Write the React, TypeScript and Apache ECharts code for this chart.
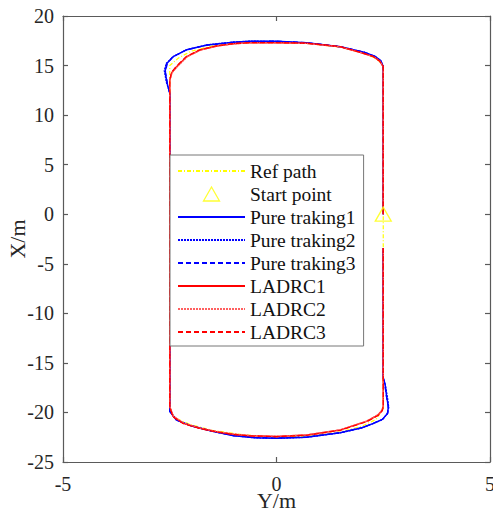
import React, { useEffect, useRef } from "react";
import * as echarts from "echarts";

// [Y (horizontal), X (vertical)] in metres
const refPath: number[][] = [
  [2.5, 0], [2.5, 15], [2.38, 15.55], [2.1, 16.2], [1.5, 16.85], [0.8, 17.22], [0, 17.38],
  [-0.8, 17.3], [-1.5, 16.98], [-2.0, 16.45], [-2.3, 15.75], [-2.5, 15], [-2.5, -19.7],
  [-2.38, -20.55], [-2.0, -21.25], [-1.5, -21.8], [-0.8, -22.25], [0, -22.5], [0.8, -22.38],
  [1.5, -21.95], [2.0, -21.4], [2.33, -20.7], [2.5, -19.6], [2.5, 0],
];
const startPoint: number[][] = [[2.5, 0]];
const pure1: number[][] = [
  [2.5, 0], [2.5, 14.9], [2.44, 15.5], [2.3, 15.95], [2.05, 16.35], [1.5, 16.9], [0.7, 17.3],
  [0, 17.45], [-0.62, 17.45], [-1.01, 17.35], [-1.63, 17.07], [-2.1, 16.6], [-2.42, 15.9],
  [-2.57, 15.2], [-2.61, 14.4], [-2.56, 13.2], [-2.5, 12.2], [-2.5, -19.9], [-2.34, -20.77],
  [-2.0, -21.35], [-1.5, -21.9], [-1.0, -22.35], [-0.5, -22.55], [0, -22.6], [0.7, -22.5],
  [1.49, -22.05], [2.0, -21.55], [2.27, -21.1], [2.48, -20.7], [2.6, -20.1], [2.62, -19.4],
  [2.58, -18.4], [2.54, -17.1], [2.5, -16.5], [2.5, -3.4],
];
const pure2: number[][] = [
  [2.5, 0], [2.5, 14.85], [2.45, 15.45], [2.32, 15.9], [2.07, 16.3], [1.52, 16.87], [0.72, 17.28],
  [0, 17.43], [-0.6, 17.47], [-1.0, 17.38], [-1.6, 17.1], [-2.08, 16.65], [-2.4, 15.95],
  [-2.58, 15.25], [-2.63, 14.5], [-2.58, 13.3], [-2.5, 12.3], [-2.5, -19.85], [-2.36, -20.72],
  [-2.02, -21.32], [-1.52, -21.88], [-1.02, -22.33], [-0.5, -22.57], [0, -22.62], [0.68, -22.52],
  [1.47, -22.08], [1.98, -21.6], [2.25, -21.15], [2.47, -20.75], [2.59, -20.15], [2.63, -19.5],
  [2.6, -18.5], [2.55, -17.2], [2.5, -16.6], [2.5, -3.4],
];
const pure3: number[][] = [
  [2.5, 0], [2.5, 14.95], [2.43, 15.52], [2.28, 15.98], [2.03, 16.38], [1.48, 16.93], [0.68, 17.32],
  [0, 17.47], [-0.64, 17.43], [-1.03, 17.33], [-1.65, 17.04], [-2.12, 16.56], [-2.44, 15.86],
  [-2.56, 15.15], [-2.6, 14.35], [-2.55, 13.1], [-2.5, 12.1], [-2.5, -19.95], [-2.32, -20.8],
  [-1.98, -21.38], [-1.48, -21.93], [-0.98, -22.37], [-0.48, -22.53], [0, -22.58], [0.72, -22.47],
  [1.51, -22.02], [2.02, -21.5], [2.29, -21.05], [2.5, -20.65], [2.61, -20.05], [2.61, -19.3],
  [2.57, -18.3], [2.53, -17.0], [2.5, -16.4], [2.5, -3.4],
];
const ladrc1: number[][] = [
  [2.5, 0], [2.5, 14.88], [2.42, 15.45], [2.27, 15.9], [1.95, 16.35], [1.49, 16.9], [0.71, 17.24],
  [0, 17.3], [-0.62, 17.3], [-1.01, 17.2], [-1.4, 16.97], [-1.79, 16.57], [-2.1, 15.9],
  [-2.34, 14.88], [-2.45, 14.3], [-2.5, 13.5], [-2.5, -19.4], [-2.42, -20.4], [-2.18, -21.1],
  [-1.79, -21.6], [-1.4, -21.95], [-1.01, -22.2], [-0.62, -22.35], [0, -22.42], [0.71, -22.28],
  [1.49, -21.78], [2.11, -20.9], [2.38, -20.26], [2.47, -19.8], [2.5, -19.4], [2.5, -3.4],
];
const ladrc2: number[][] = [
  [2.5, 0], [2.5, 14.85], [2.43, 15.42], [2.28, 15.88], [1.96, 16.33], [1.5, 16.88], [0.72, 17.22],
  [0, 17.29], [-0.6, 17.29], [-1.0, 17.19], [-1.39, 16.96], [-1.78, 16.55], [-2.09, 15.88],
  [-2.33, 14.85], [-2.45, 14.25], [-2.5, 13.4], [-2.5, -19.38], [-2.41, -20.38], [-2.17, -21.08],
  [-1.78, -21.58], [-1.39, -21.93], [-1.0, -22.18], [-0.6, -22.33], [0, -22.4], [0.7, -22.26],
  [1.48, -21.76], [2.1, -20.88], [2.37, -20.24], [2.47, -19.78], [2.5, -19.38], [2.5, -3.4],
];
const ladrc3: number[][] = [
  [2.5, 0], [2.5, 14.9], [2.41, 15.47], [2.26, 15.92], [1.94, 16.37], [1.48, 16.92], [0.7, 17.26],
  [0, 17.31], [-0.63, 17.31], [-1.02, 17.21], [-1.41, 16.98], [-1.8, 16.59], [-2.11, 15.92],
  [-2.35, 14.9], [-2.46, 14.32], [-2.5, 13.55], [-2.5, -19.42], [-2.43, -20.42], [-2.19, -21.12],
  [-1.8, -21.62], [-1.41, -21.97], [-1.02, -22.22], [-0.63, -22.37], [0, -22.44], [0.72, -22.3],
  [1.5, -21.8], [2.12, -20.92], [2.39, -20.28], [2.48, -19.82], [2.5, -19.42], [2.5, -3.4],
];
const seriesNames = [
  "Ref path", "Start point", "Pure traking1", "Pure traking2", "Pure traking3",
  "LADRC1", "LADRC2", "LADRC3",
];
const xTicks = { min: -5, max: 5, interval: 5 };
const yTicks = { min: -25, max: 20, interval: 5 };

const FONT = "'Liberation Serif', 'Times New Roman', serif";
const AXIS_COLOR = "#5a5a5a";
const TEXT_COLOR = "#262626";
const TRIANGLE_ICON = "path://M8,0 L16,14 L0,14 Z";

export default function App() {
  const ref = useRef<HTMLDivElement>(null);
  useEffect(() => {
    if (!ref.current) return;
    const chart = echarts.init(ref.current, undefined, { renderer: "svg" });
    const lineSeries = (name: string, data: number[][], color: string, type: any, width: number) => ({
      name,
      type: "line",
      data,
      showSymbol: false,
      symbol: "circle",
      lineStyle: { color, type, width },
      itemStyle: { color },
      z: 2,
    });
    const mkAxis = (t: any, pos: string, labels: boolean, extra: any = {}) => ({
      type: "value",
      position: pos,
      min: t.min,
      max: t.max,
      interval: t.interval,
      splitLine: { show: false },
      axisLine: { show: true, onZero: false, lineStyle: { color: AXIS_COLOR, width: 1.2 } },
      axisTick: { show: true, inside: true, length: 5, lineStyle: { color: AXIS_COLOR, width: 1.2 } },
      axisLabel: {
        show: labels,
        color: TEXT_COLOR,
        fontFamily: FONT,
        fontSize: 20,
        ...(extra.axisLabel || {}),
      },
      ...extra.rest,
    });
    const hidden = { color: "rgba(0,0,0,0)", borderColor: "rgba(0,0,0,0)", borderWidth: 0, opacity: 0 };
    const legendData = seriesNames.map((name, i) =>
      i === 1
        ? { name, icon: TRIANGLE_ICON, itemStyle: { color: "rgba(255,255,255,0)", borderColor: "#ffff00", borderWidth: 1.3 } }
        : { name, itemStyle: hidden }
    );
    chart.setOption({
      animation: false,
      backgroundColor: "#fff",
      textStyle: { fontFamily: FONT },
      grid: { left: 63, right: 3, top: 16, bottom: 50, containLabel: false, outerBoundsMode: "none" },
      xAxis: [
        mkAxis(xTicks, "bottom", true, {
          axisLabel: { margin: 12 },
          rest: {
            name: "Y/m",
            nameLocation: "middle",
            nameGap: 27,
            nameMoveOverlap: false,
            nameTextStyle: { color: TEXT_COLOR, fontFamily: FONT, fontSize: 22 },
          },
        }),
        mkAxis(xTicks, "top", false),
      ],
      yAxis: [
        mkAxis(yTicks, "left", true, {
          axisLabel: { margin: 9 },
          rest: {
            name: "X/m",
            nameLocation: "middle",
            nameGap: 35,
            nameMoveOverlap: false,
            nameTextStyle: { color: TEXT_COLOR, fontFamily: FONT, fontSize: 22 },
          },
        }),
        mkAxis(yTicks, "right", false),
      ],
      legend: {
        show: true,
        orient: "vertical",
        left: 170,
        top: 155,
        data: legendData,
        selectedMode: false,
        backgroundColor: "#fff",
        borderColor: "#777",
        borderWidth: 1,
        borderRadius: 0,
        padding: [6, 8, 4, 7],
        itemWidth: 67,
        itemHeight: 14,
        itemGap: 3,
        symbolKeepAspect: true,
        textStyle: { color: "#111", fontFamily: FONT, fontSize: 19.5, lineHeight: 20 },
        z: 10,
      },
      series: [
        lineSeries(seriesNames[0], refPath, "#ffff00", [4, 2, 1, 2], 1.2),
        {
          name: seriesNames[1],
          type: "scatter",
          data: startPoint,
          symbol: "triangle",
          symbolSize: [16, 14],
          itemStyle: { color: "rgba(255,255,255,0)", borderColor: "#ffff00", borderWidth: 1.3 },
          z: 5,
        },
        lineSeries(seriesNames[2], pure1, "#0000ff", "solid", 1.5),
        lineSeries(seriesNames[3], pure2, "#0000ff", [2, 1], 1.2),
        lineSeries(seriesNames[4], pure3, "#0000ff", [5, 3], 1.2),
        lineSeries(seriesNames[5], ladrc1, "#ff0000", "solid", 1.5),
        lineSeries(seriesNames[6], ladrc2, "#ff6060", [2, 1], 1.2),
        lineSeries(seriesNames[7], ladrc3, "#ff0000", [5, 3], 1.2),
      ],
    });
    return () => chart.dispose();
  }, []);
  return (
    <div
      ref={ref}
      style={{ position: "fixed", left: 0, top: 0, width: 493, height: 512, background: "#fff" }}
    />
  );
}
